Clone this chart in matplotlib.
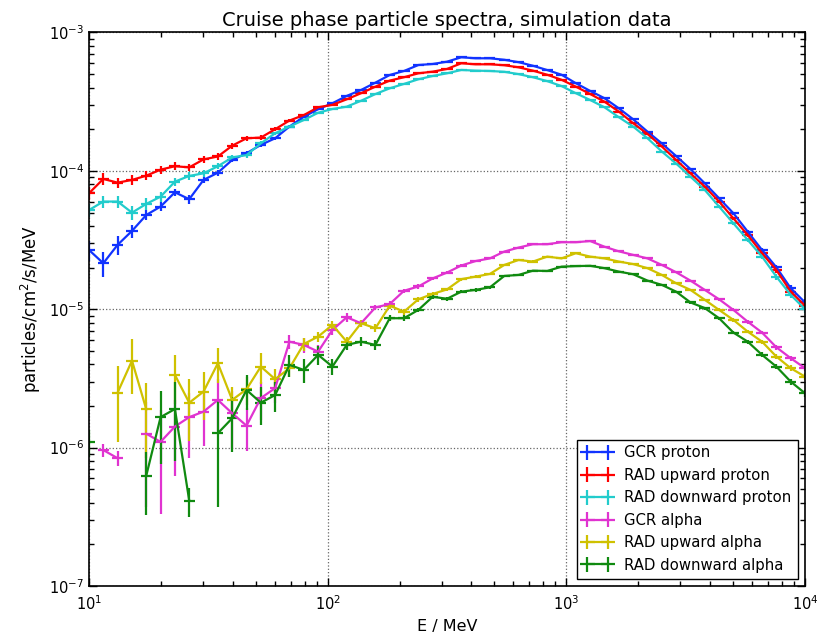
import numpy as np
import matplotlib
matplotlib.use("Agg")
import matplotlib.pyplot as plt

nan = np.nan

# energy bin centres (MeV)
energy = [10.00, 11.48, 13.18, 15.14, 17.38, 19.95, 22.91, 26.30, 30.20, 34.67,
          39.81, 45.71, 52.48, 60.26, 69.18, 79.43, 91.20, 104.7, 120.2, 138.0,
          158.5, 182.0, 208.9, 239.9, 275.4, 316.2, 363.1, 416.9, 478.6, 549.5,
          631.0, 724.4, 831.8, 955.0, 1096, 1259, 1445, 1660, 1905, 2188,
          2512, 2884, 3311, 3802, 4365, 5012, 5754, 6607, 7586, 8710, 10000]

gcr_proton = [2.68e-5, 2.15e-5, 2.92e-5, 3.68e-5, 4.80e-5, 5.52e-5, 7.0e-5, 6.24e-5, 8.6e-5, 9.7e-5,
              1.20e-4, 1.34e-4, 1.54e-4, 1.72e-4, 2.09e-4, 2.46e-4, 2.79e-4, 3.08e-4, 3.48e-4, 3.84e-4,
              4.34e-4, 4.93e-4, 5.27e-4, 5.82e-4, 5.92e-4, 6.15e-4, 6.62e-4, 6.51e-4, 6.51e-4, 6.35e-4,
              6.10e-4, 5.75e-4, 5.35e-4, 4.95e-4, 4.30e-4, 3.78e-4, 3.35e-4, 2.83e-4, 2.36e-4, 1.92e-4,
              1.58e-4, 1.28e-4, 1.03e-4, 8.13e-5, 6.34e-5, 4.94e-5, 3.64e-5, 2.68e-5, 2.01e-5, 1.42e-5,
              1.12e-5]
gcr_proton_err = [4.5e-6, 4.3e-6, 4.5e-6, 4.0e-6, 4.0e-6, 4.0e-6, 4.5e-6, 4.5e-6, 4.5e-6, 4.5e-6,
                  4.5e-6, 4.5e-6, 4.5e-6, 4.5e-6, 4.5e-6, 4.5e-6, 4.5e-6, 4.5e-6, 4.5e-6, 4.5e-6,
                  4.5e-6, 4.5e-6, 4.5e-6, 4.5e-6, 4.5e-6, 4.5e-6, 4.5e-6, 4.5e-6, 4.5e-6, 4.5e-6,
                  4.5e-6, 4.0e-6, 4.0e-6, 3.8e-6, 3.5e-6, 3.3e-6, 3.0e-6, 2.8e-6, 2.5e-6, 2.3e-6,
                  2.0e-6, 1.8e-6, 1.6e-6, 1.4e-6, 1.3e-6, 1.1e-6, 1.0e-6, 9e-7, 8e-7, 7e-7,
                  6e-7]

rad_up_proton = [6.89e-5, 8.74e-5, 8.22e-5, 8.6e-5, 9.23e-5, 1.02e-4, 1.08e-4, 1.06e-4, 1.21e-4, 1.27e-4,
                 1.52e-4, 1.72e-4, 1.74e-4, 2.0e-4, 2.31e-4, 2.53e-4, 2.88e-4, 3.0e-4, 3.29e-4, 3.64e-4,
                 4.06e-4, 4.49e-4, 4.75e-4, 5.07e-4, 5.21e-4, 5.45e-4, 5.99e-4, 5.89e-4, 5.89e-4, 5.80e-4,
                 5.60e-4, 5.30e-4, 4.95e-4, 4.55e-4, 4.06e-4, 3.59e-4, 3.16e-4, 2.68e-4, 2.21e-4, 1.85e-4,
                 1.50e-4, 1.20e-4, 9.6e-5, 7.69e-5, 6.0e-5, 4.54e-5, 3.44e-5, 2.54e-5, 1.92e-5, 1.34e-5,
                 1.06e-5]
rad_up_proton_err = [7e-6, 8.5e-6, 7e-6, 7e-6, 7e-6, 7e-6, 7e-6, 7e-6, 7e-6, 7e-6,
                     7e-6, 7e-6, 7e-6, 7e-6, 6e-6, 6e-6, 6e-6, 6e-6, 5e-6, 5e-6,
                     5e-6, 5e-6, 5e-6, 5e-6, 5e-6, 5e-6, 5e-6, 5e-6, 5e-6, 5e-6,
                     4.5e-6, 4.0e-6, 4.0e-6, 3.8e-6, 3.5e-6, 3.3e-6, 3.0e-6, 2.8e-6, 2.5e-6, 2.3e-6,
                     2.0e-6, 1.8e-6, 1.6e-6, 1.4e-6, 1.3e-6, 1.1e-6, 1.0e-6, 9e-7, 8e-7, 7e-7,
                     6e-7]

rad_down_proton = [5.21e-5, 6.0e-5, 6.0e-5, 4.99e-5, 5.77e-5, 6.51e-5, 8.36e-5, 9.19e-5, 9.6e-5, 1.08e-4,
                   1.25e-4, 1.30e-4, 1.58e-4, 1.87e-4, 2.09e-4, 2.33e-4, 2.63e-4, 2.80e-4, 2.91e-4, 3.21e-4,
                   3.59e-4, 3.95e-4, 4.25e-4, 4.59e-4, 4.85e-4, 5.07e-4, 5.36e-4, 5.30e-4, 5.27e-4, 5.20e-4,
                   5.00e-4, 4.75e-4, 4.45e-4, 4.10e-4, 3.64e-4, 3.25e-4, 2.88e-4, 2.44e-4, 2.09e-4, 1.72e-4,
                   1.38e-4, 1.13e-4, 9.08e-5, 7.28e-5, 5.52e-5, 4.18e-5, 3.17e-5, 2.40e-5, 1.72e-5, 1.27e-5,
                   1.0e-5]
rad_down_proton_err = [5.7e-6, 5.7e-6, 5.7e-6, 5.5e-6, 5.5e-6, 5.5e-6, 5.5e-6, 5.5e-6, 5.5e-6, 5.5e-6,
                       5.5e-6, 5.5e-6, 5.5e-6, 5e-6, 5e-6, 5e-6, 5e-6, 5e-6, 5e-6, 5e-6,
                       4.5e-6, 4.5e-6, 4.5e-6, 4.5e-6, 4.5e-6, 4.5e-6, 4.5e-6, 4.5e-6, 4.5e-6, 4.5e-6,
                       4.0e-6, 4.0e-6, 3.8e-6, 3.6e-6, 3.4e-6, 3.2e-6, 3.0e-6, 2.8e-6, 2.5e-6, 2.3e-6,
                       2.0e-6, 1.8e-6, 1.6e-6, 1.4e-6, 1.3e-6, 1.1e-6, 1.0e-6, 9e-7, 8e-7, 7e-7,
                       6e-7]

gcr_alpha = [nan, 9.6e-7, 8.38e-7, nan, 1.26e-6, 1.10e-6, 1.42e-6, 1.66e-6, 1.82e-6, 2.21e-6,
             1.77e-6, 1.44e-6, 2.28e-6, 2.69e-6, 5.83e-6, 5.52e-6, 4.94e-6, 7.08e-6, 8.75e-6, 7.92e-6,
             1.03e-5, 1.09e-5, 1.36e-5, 1.46e-5, 1.67e-5, 1.84e-5, 2.07e-5, 2.23e-5, 2.33e-5, 2.61e-5,
             2.79e-5, 2.95e-5, 2.95e-5, 3.05e-5, 3.05e-5, 3.11e-5, 2.83e-5, 2.62e-5, 2.47e-5, 2.33e-5,
             2.09e-5, 1.85e-5, 1.61e-5, 1.38e-5, 1.18e-5, 9.89e-6, 8.13e-6, 6.78e-6, 5.31e-6, 4.43e-6,
             3.75e-6]
gcr_alpha_err = [0, 1e-7, 1e-7, 0, 8.9e-7, 7.7e-7, 8e-7, 8.2e-7, 8e-7, 9e-7,
                 8e-7, 5e-7, 7e-7, 6e-7, 7e-7, 7e-7, 6e-7, 6e-7, 6e-7, 5e-7,
                 5e-7, 5e-7, 5e-7, 5e-7, 5e-7, 4e-7, 4e-7, 4e-7, 4e-7, 4e-7,
                 4e-7, 4e-7, 4e-7, 4e-7, 4e-7, 4e-7, 4e-7, 3.5e-7, 3.5e-7, 3.5e-7,
                 3e-7, 3e-7, 3e-7, 3e-7, 2.5e-7, 2.5e-7, 2.5e-7, 2e-7, 2e-7, 2e-7,
                 2e-7]

rad_up_alpha = [nan, nan, 2.50e-6, 4.25e-6, 1.89e-6, nan, 3.35e-6, 2.11e-6, 2.54e-6, 4.07e-6,
                2.21e-6, 2.64e-6, 3.85e-6, 3.12e-6, 3.75e-6, 5.61e-6, 6.34e-6, 7.7e-6, 5.83e-6, 7.92e-6,
                7.29e-6, 1.06e-5, 9.61e-6, 1.18e-5, 1.29e-5, 1.39e-5, 1.65e-5, 1.72e-5, 1.80e-5, 2.09e-5,
                2.27e-5, 2.21e-5, 2.40e-5, 2.33e-5, 2.54e-5, 2.40e-5, 2.33e-5, 2.21e-5, 2.12e-5, 1.98e-5,
                1.77e-5, 1.54e-5, 1.38e-5, 1.17e-5, 9.89e-6, 8.37e-6, 6.89e-6, 5.83e-6, 4.55e-6, 3.75e-6,
                3.26e-6]
rad_up_alpha_err = [0, 0, 1.4e-6, 1.8e-6, 1.05e-6, 0, 1.3e-6, 1.0e-6, 9.5e-7, 1.15e-6,
                    5.5e-7, 6e-7, 9.5e-7, 6e-7, 5e-7, 6e-7, 5e-7, 5e-7, 5e-7, 5e-7,
                    5e-7, 5e-7, 4.5e-7, 4.5e-7, 4.5e-7, 4e-7, 4e-7, 4e-7, 4e-7, 4e-7,
                    4e-7, 4e-7, 4e-7, 4e-7, 4e-7, 4e-7, 3.5e-7, 3.5e-7, 3.5e-7, 3e-7,
                    3e-7, 3e-7, 3e-7, 2.5e-7, 2.5e-7, 2.5e-7, 2e-7, 2e-7, 2e-7, 2e-7,
                    2e-7]

rad_down_alpha = [1.10e-6, nan, nan, nan, 6.28e-7, 1.66e-6, 1.90e-6, 4.14e-7, nan, 1.27e-6,
                  1.63e-6, 2.61e-6, 2.11e-6, 2.40e-6, 3.96e-6, 3.64e-6, 4.68e-6, 3.85e-6, 5.52e-6, 5.83e-6,
                  5.52e-6, 8.61e-6, 8.61e-6, 9.89e-6, 1.23e-5, 1.19e-5, 1.34e-5, 1.38e-5, 1.44e-5, 1.74e-5,
                  1.77e-5, 1.90e-5, 1.89e-5, 2.03e-5, 2.05e-5, 2.06e-5, 1.98e-5, 1.87e-5, 1.79e-5, 1.61e-5,
                  1.50e-5, 1.34e-5, 1.12e-5, 1.02e-5, 8.61e-6, 6.78e-6, 5.83e-6, 4.68e-6, 3.85e-6, 3.0e-6,
                  2.47e-6]
rad_down_alpha_err = [2.5e-7, 0, 0, 0, 3e-7, 9e-7, 1.1e-6, 1e-7, 0, 9e-7,
                      7e-7, 7.5e-7, 6.5e-7, 6e-7, 7e-7, 7e-7, 7.5e-7, 5e-7, 4.7e-7, 4.5e-7,
                      4.5e-7, 4.5e-7, 4.5e-7, 4e-7, 4e-7, 4e-7, 4e-7, 4e-7, 4e-7, 4e-7,
                      3.5e-7, 3.5e-7, 3.5e-7, 3.5e-7, 3.5e-7, 3.5e-7, 3e-7, 3e-7, 3e-7, 3e-7,
                      3e-7, 2.5e-7, 2.5e-7, 2.5e-7, 2e-7, 2e-7, 2e-7, 2e-7, 1.5e-7, 1.5e-7,
                      1.5e-7]

series = [
    ("GCR proton", gcr_proton, gcr_proton_err, "#1133ff"),
    ("RAD upward proton", rad_up_proton, rad_up_proton_err, "#ff0000"),
    ("RAD downward proton", rad_down_proton, rad_down_proton_err, "#22cccc"),
    ("GCR alpha", gcr_alpha, gcr_alpha_err, "#e033d0"),
    ("RAD upward alpha", rad_up_alpha, rad_up_alpha_err, "#cfc100"),
    ("RAD downward alpha", rad_down_alpha, rad_down_alpha_err, "#108a10"),
]

fig = plt.figure(figsize=(8.18, 6.37), dpi=100)
ax = fig.add_axes([0.1088, 0.0801, 0.8753, 0.8689])

x = np.array(energy)
f = 1.055  # half-width of the horizontal bin ticks
xerr = [x - x / f, x * f - x]

for label, y, err, color in series:
    ax.errorbar(x, np.array(y), yerr=np.array(err), xerr=xerr, color=color,
                lw=1.6, elinewidth=1.6, capsize=0, label=label)

ax.set_xscale("log")
ax.set_yscale("log")
ax.set_xlim(10, 1e4)
ax.set_ylim(1e-7, 1e-3)

ax.grid(True, which="major", color="0.4", linestyle=":", linewidth=0.9)
ax.tick_params(which="both", direction="in", top=True, right=True, labelsize=10.5)
ax.tick_params(which="major", length=6, width=1)
ax.tick_params(which="minor", length=3.5, width=1)
ax.tick_params(axis="x", pad=6)
for s in ax.spines.values():
    s.set_linewidth(1.2)

ax.set_title("Cruise phase particle spectra, simulation data", fontsize=14, pad=5)
ax.set_xlabel("E / MeV", fontsize=11.5)
ax.set_ylabel("particles/cm$^2$/s/MeV", fontsize=12)

leg = ax.legend(loc="lower right", numpoints=2, fontsize=10.7, fancybox=False,
                framealpha=1, edgecolor="black", labelspacing=0.5,
                handlelength=2.0, borderaxespad=0.5)
leg.get_frame().set_linewidth(1.0)

fig.savefig("out.png", dpi=100)
